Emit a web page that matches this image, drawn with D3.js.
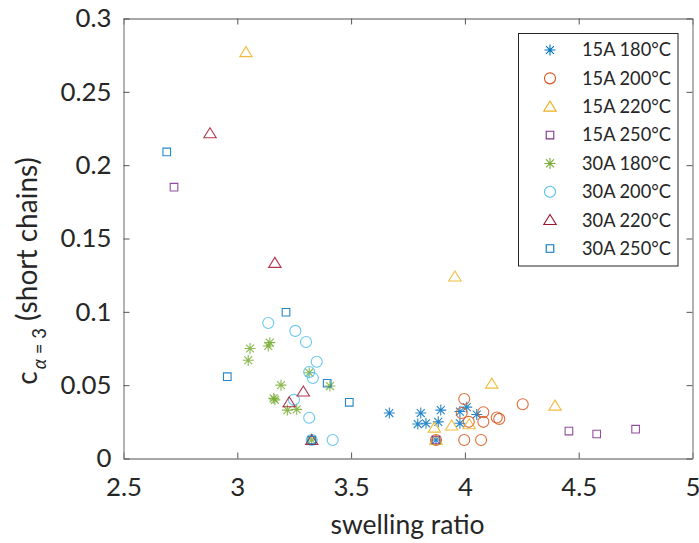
<!DOCTYPE html>
<html>
<head>
<meta charset="utf-8">
<script src="https://cdn.jsdelivr.net/npm/d3@7"></script>
<style>
  html, body { margin: 0; padding: 0; background: #fff; }
  svg { display: block; }
  text { font-family: Lato, "Noto Sans", sans-serif; fill: #262626; }
</style>
</head>
<body>
<svg id="chart" width="699" height="543"></svg>
<script>
// ---------- data ----------
const seriesNames = ["15A 180°C","15A 200°C","15A 220°C","15A 250°C","30A 180°C","30A 200°C","30A 220°C","30A 250°C"];
const seriesColors = ["#0072BD","#D95319","#EDB120","#7E2F8E","#77AC30","#4DBEEE","#A2142F","#0072BD"];
const seriesMarkers = ["star","circle","triangle","square","star","circle","triangle","square"];

const s15A180 = [[3.668,0.031],[3.806,0.031],[3.894,0.033],[3.793,0.0235],[3.829,0.024],[3.883,0.025],[3.873,0.0126],[3.978,0.032],[4.008,0.035],[3.978,0.024],[4.052,0.030]];
const s15A200 = [[3.873,0.0126],[3.997,0.0406],[3.986,0.031],[4.017,0.025],[3.997,0.0126],[4.071,0.0126],[4.254,0.037],[4.081,0.0315],[4.081,0.025],[4.140,0.028],[4.151,0.027]];
const s15A220 = [[3.038,0.277],[3.956,0.124],[3.866,0.021],[3.942,0.0224],[3.873,0.0126],[4.019,0.0233],[4.118,0.051],[4.396,0.036]];
const s15A250 = [[2.722,0.185],[3.873,0.0126],[4.457,0.0187],[4.579,0.0167],[4.750,0.020]];
const s30A180 = [[3.056,0.075],[3.143,0.079],[3.136,0.0767],[3.048,0.067],[3.192,0.050],[3.160,0.041],[3.165,0.040],[3.316,0.0585],[3.407,0.0494],[3.220,0.033],[3.261,0.0335],[3.327,0.0126]];
const s30A200 = [[3.136,0.0924],[3.255,0.087],[3.302,0.0794],[3.349,0.066],[3.316,0.059],[3.332,0.0549],[3.249,0.040],[3.316,0.0278],[3.327,0.0126],[3.419,0.0126]];
const s30A220 = [[2.880,0.2217],[3.165,0.1333],[3.290,0.0456],[3.228,0.0383],[3.327,0.0126]];
const s30A250 = [[2.690,0.209],[3.214,0.0997],[2.956,0.0558],[3.395,0.0513],[3.492,0.0383],[3.327,0.0126]];
const seriesData = [s15A180,s15A200,s15A220,s15A250,s30A180,s30A200,s30A220,s30A250];

const xTicks = [2.5,3,3.5,4,4.5,5];
const xTickLabels = ["2.5","3","3.5","4","4.5","5"];
const yTicks = [0,0.05,0.1,0.15,0.2,0.25,0.3];
const yTickLabels = ["0","0.05","0.1","0.15","0.2","0.25","0.3"];

// ---------- layout ----------
const svg = d3.select("#chart");
const L = 123.5, R = 692.5, T = 18.5, B = 458.5;
const x = d3.scaleLinear().domain([2.5,5]).range([L,R]);
const y = d3.scaleLinear().domain([0,0.3]).range([B,T]);

function fitSize(str, target, base){
  const t = svg.append("text").attr("font-size",base).text(str);
  const w = t.node().getBBox().width;
  t.remove();
  return base*target/w;
}
const tickFont = Math.min(fitSize("0.25", 51, 20), 27);
const xLabelFont = fitSize("swelling ratio", 154, 20);
const legendFont = fitSize("15A 180°C", 89, 20);

function markerPath(type){
  switch(type){
    case "circle": { const r=5.5; return `M${r},0A${r},${r} 0 1,1 ${-r},0A${r},${r} 0 1,1 ${r},0Z`; }
    case "square": { const h=3.8; return `M${-h},${-h}H${h}V${h}H${-h}Z`; }
    case "triangle": { const w=6.2, hu=5.6, hd=4.4; return `M0,${-hu}L${w},${hd}L${-w},${hd}Z`; }
    case "star": { const r=5.5, d=r*0.72;
      return `M${-r},0H${r}M0,${-r}V${r}M${-d},${-d}L${d},${d}M${-d},${d}L${d},${-d}`; }
  }
}

// axes with inward ticks on all four sides
const tickLen = 6;
const gx = svg.append("g").attr("transform",`translate(0,${B})`)
  .call(d3.axisBottom(x).tickValues(xTicks).tickFormat((d,i)=>xTickLabels[i]).tickSizeInner(-tickLen).tickSizeOuter(0).tickPadding(19));
const gxt = svg.append("g").attr("transform",`translate(0,${T})`)
  .call(d3.axisTop(x).tickValues(xTicks).tickFormat("").tickSizeInner(-tickLen).tickSizeOuter(0));
const gy = svg.append("g").attr("transform",`translate(${L},0)`)
  .call(d3.axisLeft(y).tickValues(yTicks).tickFormat((d,i)=>yTickLabels[i]).tickSizeInner(-tickLen).tickSizeOuter(0).tickPadding(12));
const gyr = svg.append("g").attr("transform",`translate(${R},0)`)
  .call(d3.axisRight(y).tickValues(yTicks).tickFormat("").tickSizeInner(-tickLen).tickSizeOuter(0));
[gx,gxt,gy,gyr].forEach(g=>{
  g.select(".domain").attr("stroke","#8a8a8a").attr("stroke-width",1.3);
  g.selectAll(".tick line").attr("stroke","#555").attr("stroke-width",1);
  g.selectAll(".tick text").attr("font-family","Lato, sans-serif").attr("font-size",tickFont).attr("fill","#262626");
});

// data markers
const plot = svg.append("g");
seriesData.forEach((data,si)=>{
  plot.append("g").selectAll("path").data(data).join("path")
    .attr("transform",d=>`translate(${x(d[0])},${y(d[1])})`)
    .attr("d",markerPath(seriesMarkers[si]))
    .attr("fill","none")
    .attr("stroke",seriesColors[si])
    .attr("stroke-width",1.1)
    .attr("stroke-opacity",0.85);
});

// axis labels
svg.append("text").attr("x",407.5).attr("y",534).attr("text-anchor","middle")
  .attr("font-size",xLabelFont).text("swelling ratio");

// y label: c_{α = 3} (short chains)
const yMain = xLabelFont*1.06, ySub = yMain*0.66;
const yl = svg.append("text").attr("text-anchor","middle").attr("font-size",yMain)
  .attr("transform","translate(37,271) rotate(-90)");
yl.append("tspan").text("c");
yl.append("tspan").attr("font-size",ySub).attr("dy",ySub*0.5).attr("dx",2)
  .attr("font-style","italic").text("α");
yl.append("tspan").attr("font-size",ySub).text(" = 3");
yl.append("tspan").attr("dy",-ySub*0.5).text(" (short chains)");

// legend
const lg = svg.append("g");
lg.append("rect").attr("x",518.5).attr("y",33.5).attr("width",159.5).attr("height",232.5)
  .attr("fill","#fff").attr("stroke","#262626").attr("stroke-width",1);
const rowY = d3.scaleLinear().domain([0,7]).range([50,248.5]);
seriesNames.forEach((name,i)=>{
  const g = lg.append("g").attr("transform",`translate(0,${rowY(i)})`);
  g.append("path").attr("transform","translate(550,0)").attr("d",markerPath(seriesMarkers[i]))
    .attr("fill","none").attr("stroke",seriesColors[i]).attr("stroke-width",1.1);
  g.append("text").attr("x",582).attr("y",0).attr("dy","0.35em").attr("font-size",legendFont).text(name);
});
</script>
</body>
</html>
